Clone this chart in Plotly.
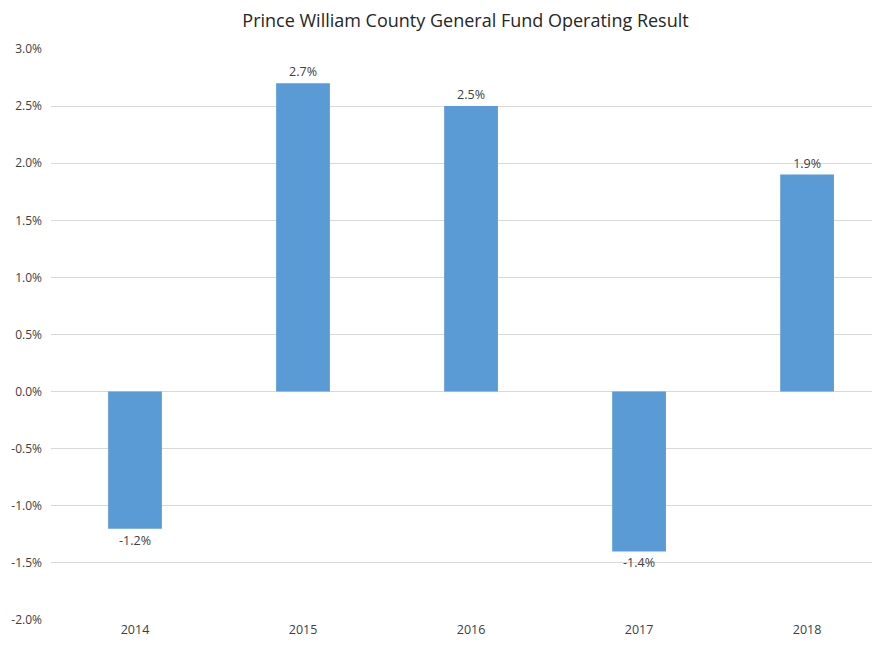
import plotly.graph_objects as go

years = ["2014", "2015", "2016", "2017", "2018"]
result = [-1.2, 2.7, 2.5, -1.4, 1.9]
labels = ["-1.2%", "2.7%", "2.5%", "-1.4%", "1.9%"]
tick_vals = [3.0, 2.5, 2.0, 1.5, 1.0, 0.5, 0.0, -0.5, -1.0, -1.5, -2.0]
tick_text = ["3.0%", "2.5%", "2.0%", "1.5%", "1.0%", "0.5%", "0.0%", "-0.5%", "-1.0%", "-1.5%", "-2.0%"]

fig = go.Figure(go.Bar(x=list(range(len(years))),
                       y=result,
                       width=0.32,
                       marker=dict(color="#5B9BD5", line=dict(width=0)),
                       text=labels,
                       textposition="outside",
                       textfont=dict(size=12.5, color="#404040"),
                       cliponaxis=False))

# page body adds ~8px offset, margins compensate for it
fig.update_layout(title=dict(text="Prince William County General Fund Operating Result",
                             x=0.5, xanchor="center", y=0.981, yanchor="middle", xref="paper",
                             font=dict(size=18, color="#262626")),
                  width=880, height=648,
                  margin=dict(l=43, r=8, t=41, b=36, autoexpand=False),
                  plot_bgcolor="white", paper_bgcolor="white",
                  font=dict(family="Open Sans, Liberation Sans, sans-serif", size=12, color="#595959"),
                  showlegend=False)

fig.update_xaxes(tickmode="array", tickvals=list(range(len(years))), ticktext=years,
                 range=[-0.5, 4.434], showgrid=False, zeroline=False, showline=False,
                 ticks="", automargin=False, tickfont=dict(size=12.5, color="#404040"))

fig.update_yaxes(tickmode="array", tickvals=tick_vals, ticktext=tick_text,
                 range=[-2.0, 3.0], showgrid=True, gridcolor="#D9D9D9", gridwidth=1,
                 zeroline=True, zerolinecolor="#D9D9D9", zerolinewidth=1,
                 showline=False, ticks="", ticklabelstandoff=8, automargin=False,
                 tickfont=dict(size=12, color="#404040"))

fig.write_html("out.html")
